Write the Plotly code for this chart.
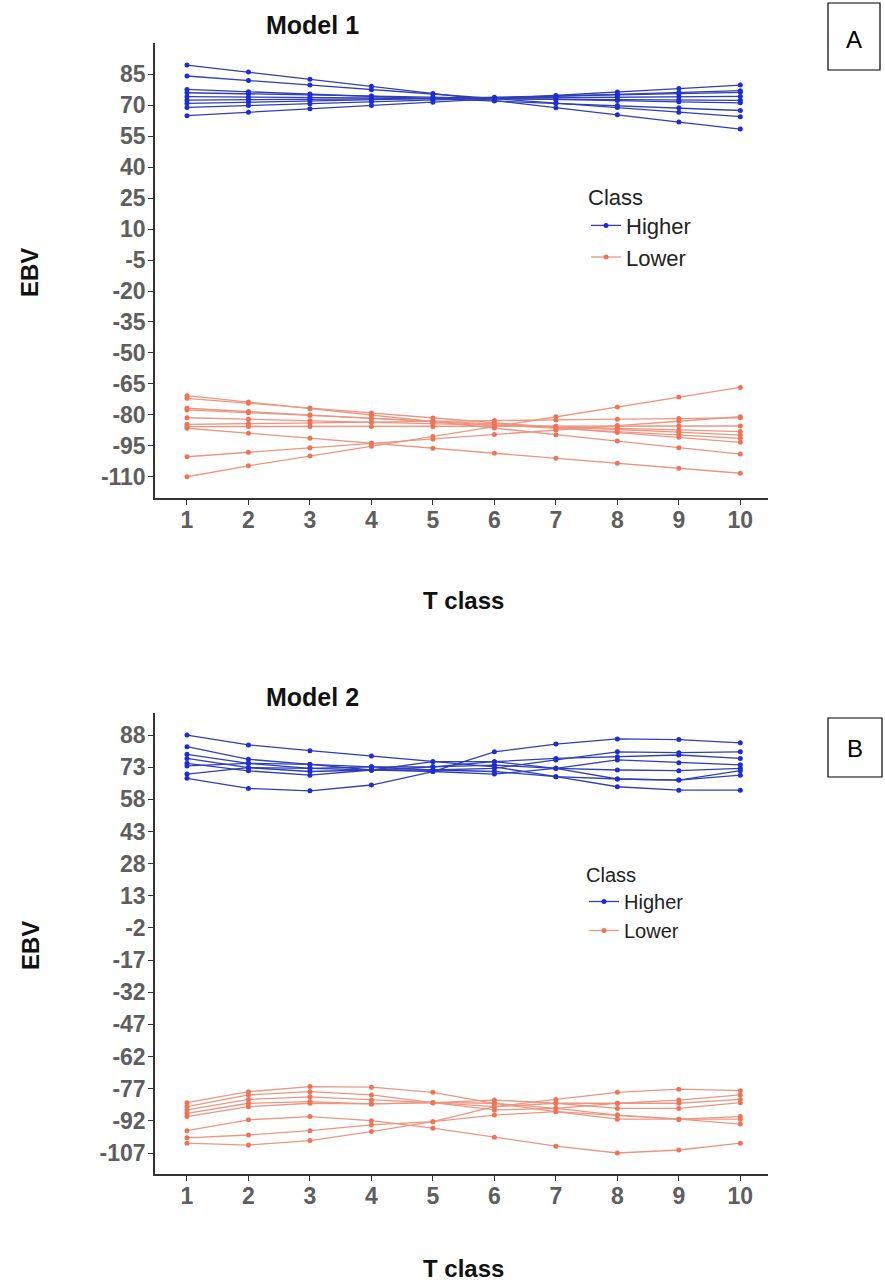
import plotly.graph_objects as go

W, H = 885, 1282

# ---------------- data ----------------
t_class = [1, 2, 3, 4, 5, 6, 7, 8, 9, 10]

# Model 1 - Higher class (one list per animal line)
m1_higher = [
    [89.5, 86.1, 82.6, 79.2, 75.7, 72.3, 68.8, 65.4, 61.9, 58.5],
    [84.2, 82.0, 79.8, 77.6, 75.4, 73.3, 71.1, 68.9, 66.7, 64.5],
    [77.7, 76.6, 75.5, 74.4, 73.3, 72.1, 71.0, 69.9, 68.8, 67.5],
    [76.1, 75.6, 75.0, 74.5, 73.9, 73.4, 72.8, 72.3, 71.7, 71.2],
    [74.2, 74.0, 73.8, 73.6, 73.4, 73.2, 73.0, 72.8, 72.6, 72.4],
    [72.5, 72.7, 72.9, 73.1, 73.3, 73.5, 73.7, 73.9, 74.1, 74.3],
    [70.9, 71.5, 72.1, 72.7, 73.3, 73.9, 74.5, 75.1, 75.7, 76.3],
    [69.0, 69.9, 70.8, 71.7, 72.6, 73.5, 74.4, 75.3, 76.2, 77.1],
    [65.0, 66.6, 68.3, 69.9, 71.5, 73.2, 74.8, 76.5, 78.1, 79.8],
]

# Model 1 - Lower class
m1_lower = [
    [-110.0, -104.7, -100.0, -95.2, -90.5, -85.7, -80.9, -76.2, -71.4, -66.7],
    [-100.3, -98.1, -96.0, -93.8, -91.7, -89.5, -87.4, -85.2, -83.1, -80.9],
    [-86.5, -88.9, -91.3, -93.8, -96.2, -98.6, -101.0, -103.5, -105.9, -108.3],
    [-70.7, -73.8, -77.0, -80.1, -83.3, -86.4, -89.6, -92.7, -95.9, -99.0],
    [-72.0, -74.4, -76.7, -79.1, -81.5, -83.8, -86.2, -88.6, -90.9, -93.3],
    [-76.8, -78.4, -80.0, -81.7, -83.3, -84.9, -86.5, -88.2, -89.8, -91.4],
    [-77.6, -79.0, -80.3, -81.7, -83.0, -84.4, -85.7, -87.1, -88.4, -89.8],
    [-81.4, -82.1, -82.9, -83.6, -84.4, -85.1, -85.9, -86.6, -87.3, -88.1],
    [-84.6, -84.2, -83.9, -83.5, -83.2, -82.8, -82.5, -82.1, -81.8, -81.4],
    [-85.7, -85.7, -85.6, -85.6, -85.6, -85.6, -85.5, -85.5, -85.4, -85.4],
]

# Model 2 - Higher class
m2_higher = [
    [88.0, 83.4, 80.7, 78.2, 75.6, 73.2, 68.6, 63.9, 62.3, 62.3],
    [67.8, 63.1, 62.0, 64.7, 71.0, 80.2, 83.8, 86.2, 85.9, 84.4],
    [82.6, 76.7, 74.3, 71.7, 71.7, 72.5, 76.4, 80.2, 79.8, 80.2],
    [79.0, 74.8, 72.5, 73.2, 73.2, 75.6, 77.1, 77.9, 78.7, 77.1],
    [77.1, 72.8, 71.0, 71.7, 73.2, 74.0, 72.5, 71.7, 71.4, 72.5],
    [74.8, 71.3, 69.3, 71.7, 75.6, 75.6, 72.5, 67.5, 67.0, 69.3],
    [73.6, 74.8, 74.3, 73.2, 71.7, 71.0, 68.6, 67.5, 67.0, 71.4],
    [69.8, 72.8, 72.5, 71.7, 71.0, 69.8, 72.5, 76.4, 75.1, 74.1],
]

# Model 2 - Lower class
m2_lower = [
    [-96.6, -91.5, -90.0, -91.9, -95.4, -99.7, -103.8, -107.0, -105.6, -102.4],
    [-102.4, -103.3, -101.2, -97.0, -92.4, -85.4, -82.0, -78.7, -77.2, -77.9],
    [-99.9, -98.6, -96.6, -93.9, -92.4, -89.3, -87.7, -89.3, -91.2, -93.5],
    [-83.5, -78.4, -76.0, -76.3, -78.7, -83.8, -87.7, -91.2, -91.2, -91.2],
    [-85.4, -79.9, -78.4, -79.9, -83.5, -86.9, -86.2, -83.8, -82.3, -79.9],
    [-86.9, -82.0, -80.8, -82.3, -83.5, -85.4, -83.8, -83.8, -83.8, -82.0],
    [-88.5, -83.8, -83.0, -84.1, -83.5, -83.8, -86.2, -89.3, -91.2, -90.0],
    [-90.0, -85.4, -83.8, -84.1, -83.5, -82.3, -83.8, -86.2, -86.2, -83.5],
]

y1_ticks = [85, 70, 55, 40, 25, 10, -5, -20, -35, -50, -65, -80, -95, -110]
y2_ticks = [88, 73, 58, 43, 28, 13, -2, -17, -32, -47, -62, -77, -92, -107]

BLUE_LINE, BLUE_MK = "#2f3fb4", "#1c2cd8"
SAL_LINE, SAL_MK = "#ec9682", "#ef7455"
FONT = "Liberation Sans, Arial, sans-serif"

fig = go.Figure()


def add_group(lines, name, lc, mc, xa, ya, legend):
    for i, ys in enumerate(lines):
        fig.add_trace(go.Scatter(
            x=t_class, y=ys, mode="lines+markers", name=name,
            legendgroup=legend + name, showlegend=(i == 0), legend=legend,
            line=dict(color=lc, width=1.3), marker=dict(color=mc, size=5),
            xaxis=xa, yaxis=ya))


add_group(m1_higher, "Higher", BLUE_LINE, BLUE_MK, "x", "y", "legend")
add_group(m1_lower, "Lower", SAL_LINE, SAL_MK, "x", "y", "legend")
add_group(m2_higher, "Higher", BLUE_LINE, BLUE_MK, "x2", "y2", "legend2")
add_group(m2_lower, "Lower", SAL_LINE, SAL_MK, "x2", "y2", "legend2")


def px(x):
    return x / W


def py(y):
    return 1 - y / H


tickfont = dict(family=FONT, size=23, color="#5e5e5e", weight="bold")
common_x = dict(tickvals=t_class, range=[0.48, 10.45], showline=True, linecolor="#333333",
                linewidth=1.5, ticks="outside", ticklen=5, tickcolor="#333333", tickwidth=1.2,
                tickfont=tickfont, showgrid=False, zeroline=False, ticklabelstandoff=-4)
common_y = dict(showline=True, linecolor="#333333", linewidth=1.5, ticks="outside", ticklen=5,
                tickcolor="#333333", tickwidth=1.2, tickfont=tickfont, showgrid=False,
                zeroline=False, ticklabelstandoff=-2)

fig.update_layout(
    width=W, height=H, autosize=False,
    margin=dict(l=0, r=0, t=0, b=0),
    paper_bgcolor="white", plot_bgcolor="white",
    font=dict(family=FONT),
    xaxis=dict(domain=[px(155), px(768)], anchor="y", **common_x),
    yaxis=dict(domain=[py(498), py(43)], anchor="x", range=[-120.3, 100.2],
               tickvals=y1_ticks, ticktext=[str(v) for v in y1_ticks], **common_y),
    xaxis2=dict(domain=[px(155), px(768)], anchor="y2", **common_x),
    yaxis2=dict(domain=[py(1174), py(713)], anchor="x2", range=[-116.8, 98.3],
                tickvals=y2_ticks, ticktext=[str(v) for v in y2_ticks], **common_y),
    legend=dict(x=px(586), y=py(176), xanchor="left", yanchor="top",
                title=dict(text="Class", font=dict(size=22, color="#222222")),
                font=dict(size=22, color="#222222"), bgcolor="rgba(0,0,0,0)",
                tracegroupgap=0),
    legend2=dict(x=px(584), y=py(856), xanchor="left", yanchor="top",
                 title=dict(text="Class", font=dict(size=20, color="#222222")),
                 font=dict(size=20, color="#222222"), bgcolor="rgba(0,0,0,0)",
                 tracegroupgap=0),
)

ann = []


def add_text(text, x, y, size, bold=True, angle=0, color="#111111"):
    ann.append(dict(text=text, x=px(x), y=py(y), xref="paper", yref="paper",
                    showarrow=False, textangle=angle, xanchor="center", yanchor="middle",
                    font=dict(family=FONT, size=size, color=color,
                              weight="bold" if bold else "normal")))


add_text("Model 1", 312, 25, 25)
add_text("Model 2", 312, 697, 25)
add_text("EBV", 30, 273, 24, angle=-90)
add_text("EBV", 30, 946, 24, angle=-90)
add_text("T class", 463, 600, 24)
add_text("T class", 463, 1268, 24)
add_text("A", 854, 40, 24, bold=False, color="#000000")
add_text("B", 855, 748, 24, bold=False, color="#000000")
fig.update_layout(annotations=ann)

fig.add_shape(type="rect", xref="paper", yref="paper", x0=px(828), x1=px(880), y0=py(70),
              y1=py(3), line=dict(color="#000000", width=1.2))
fig.add_shape(type="rect", xref="paper", yref="paper", x0=px(828), x1=px(882), y0=py(777),
              y1=py(718), line=dict(color="#000000", width=1.2))

fig.write_html("out.html")
